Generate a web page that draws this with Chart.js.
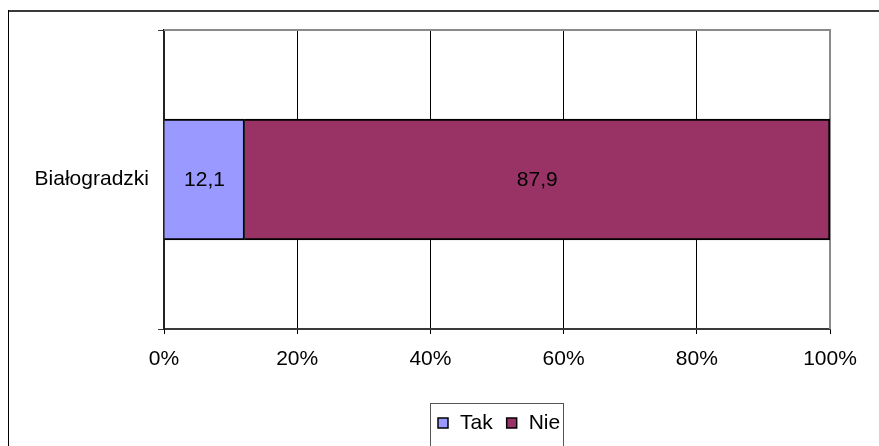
<!DOCTYPE html>
<html>
<head>
<meta charset="utf-8">
<script src="https://cdn.jsdelivr.net/npm/chart.js@4"></script>
<style>
  html, body { margin: 0; padding: 0; background: #fff; }
  #wrap { width: 879px; height: 446px; }
</style>
</head>
<body>
<div id="wrap"><canvas id="chart" width="879" height="446"></canvas></div>
<script>
// data
const categories = ['Białogradzki'];
const seriesNames = ['Tak', 'Nie'];
const takValues = [12.1];
const nieValues = [87.9];
const seriesColors = ['#9999FF', '#993366'];
const xTicks = [0, 20, 40, 60, 80, 100];

const FONT = { family: '"Liberation Sans", Arial, sans-serif', size: 21 };

// outer frame of the chart object
const framePlugin = {
  id: 'frame',
  beforeDraw(chart) {
    const ctx = chart.ctx;
    ctx.save();
    ctx.fillStyle = '#fff';
    ctx.fillRect(0, 0, chart.width, chart.height);
    ctx.strokeStyle = '#3a3a3a';
    ctx.lineWidth = 2;
    ctx.beginPath();
    ctx.moveTo(8, 11);
    ctx.lineTo(chart.width, 11);
    ctx.stroke();
    ctx.lineWidth = 1;
    ctx.strokeStyle = '#000';
    ctx.beginPath();
    ctx.moveTo(8.5, 10);
    ctx.lineTo(8.5, chart.height);
    ctx.stroke();
    ctx.restore();
  }
};

// grey top / right border of plot area
const plotBorder = {
  id: 'plotBorder',
  beforeDatasetsDraw(chart) {
    const { ctx, chartArea: a } = chart;
    ctx.save();
    ctx.strokeStyle = '#8a8a8a';
    ctx.lineWidth = 2;
    ctx.beginPath();
    ctx.moveTo(a.left, a.top);
    ctx.lineTo(a.right, a.top);
    ctx.lineTo(a.right, a.bottom);
    ctx.stroke();
    ctx.restore();
  }
};

// value labels inside the segments
const valueLabels = {
  id: 'valueLabels',
  afterDatasetsDraw(chart) {
    const ctx = chart.ctx;
    ctx.save();
    ctx.font = `${FONT.size}px ${FONT.family}`;
    ctx.fillStyle = '#000';
    ctx.textAlign = 'center';
    ctx.textBaseline = 'middle';
    chart.data.datasets.forEach((ds, i) => {
      chart.getDatasetMeta(i).data.forEach((el, j) => {
        const cx = (el.x + el.base) / 2;
        ctx.fillText(ds.data[j].toFixed(1).replace('.', ','), cx, el.y + 1);
      });
    });
    ctx.restore();
  }
};

// legend box at the bottom
const legendBox = {
  id: 'legendBox',
  afterDraw(chart) {
    const ctx = chart.ctx;
    ctx.save();
    ctx.strokeStyle = '#555';
    ctx.lineWidth = 1;
    ctx.strokeRect(430.5, 403.5, 133, 60);
    ctx.font = `${FONT.size}px ${FONT.family}`;
    ctx.textBaseline = 'middle';
    ctx.fillStyle = '#000';
    let x = 438;
    const y = 423;
    chart.data.datasets.forEach(ds => {
      ctx.fillStyle = ds.backgroundColor;
      ctx.fillRect(x, y - 5, 10, 10);
      ctx.strokeStyle = '#000';
      ctx.lineWidth = 1.5;
      ctx.strokeRect(x, y - 5, 10, 10);
      x += 10 + 12;
      ctx.fillStyle = '#000';
      ctx.fillText(ds.label, x, y);
      x += ctx.measureText(ds.label).width + 14;
    });
    ctx.restore();
  }
};

new Chart(document.getElementById('chart'), {
  type: 'bar',
  data: {
    labels: categories,
    datasets: [
      { label: seriesNames[0], data: takValues, backgroundColor: seriesColors[0], borderColor: '#000', borderWidth: 2, barThickness: 121 },
      { label: seriesNames[1], data: nieValues, backgroundColor: seriesColors[1], borderColor: '#000', borderWidth: 2, barThickness: 121 }
    ]
  },
  options: {
    indexAxis: 'y',
    responsive: false,
    animation: false,
    layout: { padding: { top: 30, right: 49, bottom: 0, left: 0 } },
    plugins: {
      legend: { display: false },
      tooltip: { enabled: false }
    },
    scales: {
      x: {
        stacked: true,
        min: 0,
        max: 100,
        afterBuildTicks: s => { s.ticks = xTicks.map(v => ({ value: v })); },
        afterFit: s => { s.height = 117; },
        ticks: {
          font: FONT,
          color: '#000',
          padding: 13,
          callback: v => v + '%'
        },
        grid: { color: '#000', lineWidth: 1, tickLength: 5 },
        border: { color: '#3a3a3a', width: 2 }
      },
      y: {
        stacked: true,
        afterFit: s => { s.width = 164; },
        ticks: { font: FONT, color: '#000', padding: 9 },
        grid: { drawOnChartArea: false, color: '#333', tickLength: 6, offset: true },
        border: { color: '#222', width: 2 }
      }
    }
  },
  plugins: [framePlugin, plotBorder, valueLabels, legendBox]
});
</script>
</body>
</html>
